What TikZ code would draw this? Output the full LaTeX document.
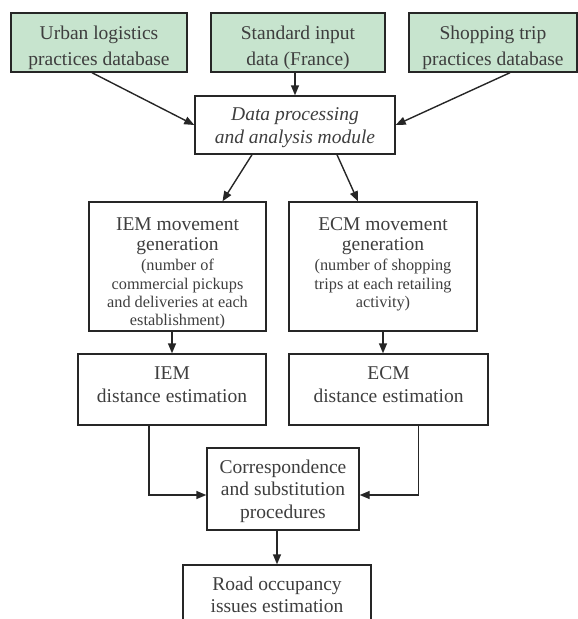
\documentclass[tikz,border=0pt]{standalone}
\usepackage{fontspec}
\setmainfont{Liberation Serif}
\usetikzlibrary{arrows.meta}
\definecolor{vertbase}{RGB}{199,228,206}
\definecolor{gristexte}{RGB}{62,62,62}
\newcommand{\petit}{\fontsize{16.3}{18.3}\selectfont}
\tikzset{
  boite/.style={draw=black!85, line width=1.4pt, text=gristexte, align=center, inner sep=0pt, font=\fontsize{19.5}{22.5}\selectfont},
  source/.style={boite, fill=vertbase, font=\fontsize{19.5}{26}\selectfont, text height=45pt, text depth=0pt},
  fleche/.style={-{Triangle[length=10pt,width=8pt]}, line width=1.4pt, black!85},
}
\begin{document}
\begin{tikzpicture}[x=1pt, y=-1pt]
    \clip (0,0) rectangle (578,619);
    % Bases de données
    \node[source, minimum width=176pt, minimum height=59pt] (urbain) at (99,42.5) {Urban logistics\\practices database};
    \node[source, minimum width=174pt, minimum height=59pt] (standard) at (298,42.5) {Standard input\\data (France)};
    \node[source, minimum width=168pt, minimum height=59pt] (achats) at (493,42.5) {Shopping trip\\practices database};

    % Modules
    \node[boite, minimum width=200pt, minimum height=58pt, text height=36.5pt, text depth=0pt, font=\fontsize{19.5}{23}\selectfont\itshape] (traitement) at (295,125) {Data processing\\and analysis module};
    \node[boite, minimum width=177pt, minimum height=129pt, text height=118.7pt, text depth=0pt] (iemgen) at (177.5,266.5) {IEM movement\\[-2pt]generation\\[-2.5pt]\petit (number of\\[-4.2pt]\petit commercial pickups\\[-4.2pt]\petit and deliveries at each\\[-4.2pt]\petit establishment)};
    \node[boite, minimum width=188pt, minimum height=129pt, text height=100.4pt, text depth=18.5pt] (ecmgen) at (383,266.5) {ECM movement\\[-2pt]generation\\[-2.5pt]\petit (number of shopping\\[-4.2pt]\petit trips at each retailing\\[-4.2pt]\petit activity)};
    \node[boite, minimum width=188pt, minimum height=71pt, text depth=10pt] (iemdist) at (172,389.5) {IEM\\distance estimation};
    \node[boite, minimum width=199pt, minimum height=71pt, text depth=10pt] (ecmdist) at (388.5,389.5) {ECM\\distance estimation};
    \node[boite, minimum width=152pt, minimum height=82pt, text depth=0pt] (corresp) at (283,489) {Correspondence\\and substitution\\procedures};
    \node[boite, minimum width=188pt, minimum height=60pt] (route) at (277,595) {Road occupancy\\issues estimation};

    % Flèches
    \draw[fleche] ([xshift=-7pt]urbain.south) -- (traitement.west);
    \draw[fleche] (traitement.north |- standard.south) -- (traitement.north);
    \draw[fleche] ([xshift=17pt]achats.south) -- (traitement.east);
    \draw[fleche] ([xshift=-43pt]traitement.south) -- ([xshift=45pt]iemgen.north);
    \draw[fleche] ([xshift=42pt]traitement.south) -- ([xshift=-25pt]ecmgen.north);
    \draw[fleche] (iemdist.north |- iemgen.south) -- (iemdist.north);
    \draw[fleche] (ecmgen.south) -- (ecmgen.south |- ecmdist.north);
    \draw[fleche] ([xshift=-23pt]iemdist.south) |- ([yshift=-6pt]corresp.west);
    \draw[fleche] ([xshift=30pt]ecmdist.south) |- ([yshift=-6pt]corresp.east);
    \draw[fleche] (route.north |- corresp.south) -- (route.north);
\end{tikzpicture}
\end{document}
